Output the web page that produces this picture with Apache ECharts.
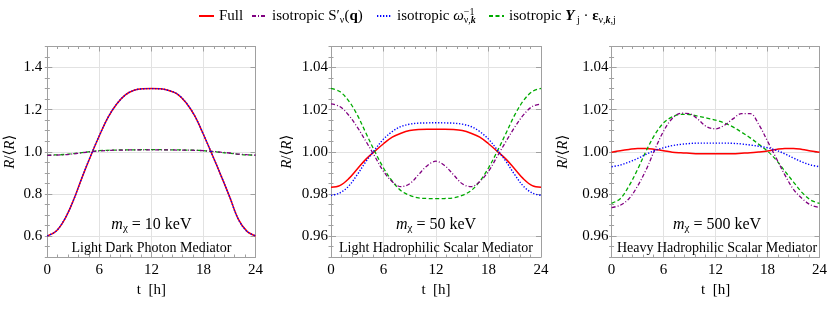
<!DOCTYPE html>
<html><head><meta charset="utf-8">
<script src="https://cdn.jsdelivr.net/npm/echarts@6/dist/echarts.min.js"></script>
<style>html,body{margin:0;padding:0;background:#fff}#c{width:830px;height:317px}</style>
</head><body><div id="c"></div>
<script>
// ---------- data ----------
const hours = [0,1,2,3,4,5,6,7,8,9,10,11,12,13,14,15,16,17,18,19,20,21,22,23,24];
const xTicks = [0, 6, 12, 18, 24];
const seriesNames = ['Full', 'isotropic S′ν(q)', 'isotropic ω⁻¹ν,k', 'isotropic Yj·εν,k,j'];

// Panel 1: m_chi = 10 keV, Light Dark Photon Mediator
const full1 = [0.600,0.622,0.679,0.768,0.877,0.980,1.076,1.163,1.227,1.270,1.292,1.299,1.300,1.299,1.291,1.274,1.233,1.170,1.082,0.987,0.889,0.788,0.681,0.623,0.600];
const isoS1 = [0.983,0.984,0.986,0.990,0.995,1.000,1.004,1.006,1.008,1.008,1.009,1.009,1.009,1.009,1.009,1.008,1.008,1.007,1.005,1.002,0.998,0.994,0.989,0.986,0.984];
const isoW1 = [0.601,0.622,0.680,0.768,0.878,0.981,1.077,1.163,1.227,1.270,1.292,1.299,1.300,1.299,1.291,1.274,1.233,1.170,1.082,0.987,0.889,0.788,0.681,0.622,0.601];
const isoY1 = [0.984,0.985,0.987,0.991,0.996,1.001,1.005,1.007,1.008,1.009,1.009,1.010,1.010,1.010,1.009,1.009,1.008,1.007,1.005,1.001,0.997,0.993,0.988,0.985,0.984];

// Panel 2: m_chi = 50 keV, Light Hadrophilic Scalar Mediator
const full2 = [0.9831,0.9839,0.9871,0.9918,0.9965,1.0002,1.0038,1.0069,1.0088,1.0101,1.0106,1.0107,1.0107,1.0107,1.0106,1.0101,1.0088,1.0069,1.0038,1.0002,0.9965,0.9918,0.9871,0.9839,0.9831];
const isoS2 = [1.0227,1.0215,1.0175,1.0117,1.0049,0.9978,0.9907,0.9858,0.9834,0.9848,0.9891,0.9934,0.9955,0.9934,0.9891,0.9848,0.9834,0.9858,0.9907,0.9978,1.0049,1.0117,1.0175,1.0215,1.0227];
const isoW2 = [0.9793,0.9804,0.9836,0.9891,0.9954,1.0009,1.0060,1.0096,1.0120,1.0131,1.0136,1.0137,1.0138,1.0137,1.0136,1.0131,1.0120,1.0096,1.0060,1.0009,0.9954,0.9891,0.9836,0.9804,0.9793];
const isoY2 = [1.0301,1.0286,1.0243,1.0175,1.0088,1.0002,0.9923,0.9860,0.9815,0.9793,0.9781,0.9778,0.9777,0.9778,0.9781,0.9793,0.9815,0.9860,0.9923,1.0002,1.0088,1.0175,1.0243,1.0286,1.0301];

// Panel 3: m_chi = 500 keV, Heavy Hadrophilic Scalar Mediator
const full3 = [0.9998,1.0005,1.0011,1.0016,1.0016,1.0011,1.0005,0.9998,0.9995,0.9993,0.9991,0.9991,0.9991,0.9991,0.9991,0.9993,0.9995,0.9999,1.0004,1.0011,1.0016,1.0016,1.0011,1.0004,0.9998];
const isoS3 = [0.9735,0.9746,0.9777,0.9837,0.9916,1.0011,1.0098,1.0158,1.0183,1.0181,1.0153,1.0118,1.0109,1.0125,1.0156,1.0181,1.0181,1.0129,1.0050,0.9970,0.9890,0.9821,0.9777,0.9747,0.9735];
const isoW3 = [0.9929,0.9937,0.9951,0.9968,0.9988,1.0006,1.0019,1.0029,1.0035,1.0039,1.0041,1.0041,1.0041,1.0041,1.0040,1.0037,1.0032,1.0026,1.0019,1.0007,0.9990,0.9970,0.9951,0.9937,0.9929];
const isoY3 = [0.9755,0.9777,0.9837,0.9916,1.0005,1.0082,1.0137,1.0166,1.0178,1.0177,1.0169,1.0160,1.0150,1.0137,1.0118,1.0093,1.0066,1.0035,1.0003,0.9961,0.9908,0.9856,0.9806,0.9770,0.9755];

const massLabels = ['10 keV', '50 keV', '500 keV'];
const mediatorLabels = ['Light Dark Photon Mediator', 'Light Hadrophilic Scalar Mediator', 'Heavy Hadrophilic Scalar Mediator'];
const yMin = [0.5, 0.95, 0.95];
const yMax = [1.5, 1.05, 1.05];
const yMinorStep = [0.05, 0.005, 0.005];
const yDecimals = [1, 2, 2];

// ---------- layout / style ----------
const FONT = "'Liberation Serif','DejaVu Serif',serif";
const FRAME = '#a0a0a0';
const GRIDC = '#e2e2e2';
const grids = [
  {left: 47.3, top: 46.5, width: 208.2, height: 210.5},
  {left: 331,  top: 46.5, width: 210,   height: 210.5},
  {left: 611.6,top: 46.5, width: 210.8, height: 210.5}
];
const labelMargin = [5, 3, 3];
const nameGaps = [30, 36, 41];
const legendLefts = [193, 246, 371, 483];
const styles = [
  {color: '#ff0000', width: 1.5, type: 'solid', z: 2},
  {color: '#800080', width: 1.3, type: [4, 2, 1, 2], z: 4},
  {color: '#0000ff', width: 1.4, type: [1.3, 1.7], z: 5},
  {color: '#00aa00', width: 1.3, type: [4, 2.5], z: 3}
];
const panelData = [[full1, isoS1, isoW1, isoY1],[full2, isoS2, isoW2, isoY2],[full3, isoS3, isoW3, isoY3]];

const subStyle = {fontFamily: FONT, fontSize: 10, lineHeight: 10, verticalAlign: 'bottom', color: '#000'};
const supStyle = {fontFamily: FONT, fontSize: 10, lineHeight: 10, verticalAlign: 'top', color: '#000'};
const legendRich = {
  sub: subStyle,
  sup: supStyle,
  sup0: Object.assign({}, supStyle, {width: 0.01}),
  subb: Object.assign({}, subStyle, {fontWeight: 'bold', fontStyle: 'italic'}),
  b: {fontFamily: FONT, fontSize: 15, fontWeight: 'bold', color: '#000'},
  bi: {fontFamily: FONT, fontSize: 15, fontWeight: 'bold', fontStyle: 'italic', color: '#000'},
  it: {fontFamily: FONT, fontSize: 15, fontStyle: 'italic', color: '#000'}
};
const legendText = {};
legendText[seriesNames[0]] = 'Full';
legendText[seriesNames[1]] = 'isotropic S′{sub|ν}({b|q})';
legendText[seriesNames[2]] = 'isotropic {it|ω}{sup0|−1}{sub|ν,}{subb|k}';
legendText[seriesNames[3]] = 'isotropic {bi|Y}{sub| j} · {b|ε}{sub|ν,}{subb|k}{sub|,j}';

const xAxes = [], yAxes = [], series = [], graphics = [];
for (let i = 0; i < 3; i++) {
  const tickStyle = {color: FRAME, width: 1};
  xAxes.push({
    gridIndex: i, type: 'value', min: xTicks[0], max: xTicks[xTicks.length-1], interval: 6, position: 'bottom',
    axisLine: {show: true, onZero: false, lineStyle: {color: FRAME, width: 1}},
    axisTick: {show: true, inside: true, length: 5, lineStyle: tickStyle},
    minorTick: {show: true, splitNumber: 5, length: 2.5, lineStyle: tickStyle},
    splitLine: {show: true, lineStyle: {color: GRIDC, width: 1}},
    axisLabel: {color: '#000', fontFamily: FONT, fontSize: 15, margin: 6},
    name: 't  [h]', nameLocation: 'middle', nameGap: 24,
    nameTextStyle: {color: '#000', fontFamily: FONT, fontSize: 15}
  });
  xAxes.push({
    gridIndex: i, type: 'value', min: xTicks[0], max: xTicks[xTicks.length-1], interval: 6, position: 'top',
    axisLine: {show: true, onZero: false, lineStyle: {color: FRAME, width: 1}},
    axisTick: {show: true, inside: true, length: 5, lineStyle: tickStyle},
    minorTick: {show: true, splitNumber: 5, length: 2.5, lineStyle: tickStyle},
    splitLine: {show: false}, axisLabel: {show: false}
  });
  const base = {gridIndex: i, type: 'value', min: yMin[i], max: yMax[i]};
  yAxes.push(Object.assign({}, base, {
    position: 'left', splitNumber: 5,
    axisLine: {show: true, onZero: false, lineStyle: {color: FRAME, width: 1}},
    axisTick: {show: true, inside: true, length: 5, lineStyle: tickStyle},
    splitLine: {show: true, lineStyle: {color: GRIDC, width: 1}},
    axisLabel: {color: '#000', fontFamily: FONT, fontSize: 15, margin: labelMargin[i],
      showMinLabel: false, showMaxLabel: false, formatter: v => v.toFixed(yDecimals[i])},
    name: '{i|R}/⟨{i|R}⟩', nameLocation: 'middle', nameGap: nameGaps[i],
    nameTextStyle: {color: '#000', fontFamily: FONT, fontSize: 15,
      rich: {i: {fontFamily: FONT, fontSize: 15, fontStyle: 'italic', color: '#000'}}}
  }));
  yAxes.push(Object.assign({}, base, {
    position: 'left', interval: yMinorStep[i],
    axisLine: {show: false}, axisTick: {show: true, inside: true, length: 2.5, lineStyle: tickStyle},
    splitLine: {show: false}, axisLabel: {show: false}
  }));
  yAxes.push(Object.assign({}, base, {
    position: 'right', splitNumber: 5,
    axisLine: {show: true, onZero: false, lineStyle: {color: FRAME, width: 1}},
    axisTick: {show: true, inside: true, length: 5, lineStyle: tickStyle},
    splitLine: {show: false}, axisLabel: {show: false}
  }));
  yAxes.push(Object.assign({}, base, {
    position: 'right', interval: yMinorStep[i],
    axisLine: {show: false}, axisTick: {show: true, inside: true, length: 2.5, lineStyle: tickStyle},
    splitLine: {show: false}, axisLabel: {show: false}
  }));
  // series order for z: Full, Y, S, W
  [0, 3, 1, 2].forEach(k => {
    const st = styles[k];
    series.push({
      type: 'line', name: seriesNames[k], xAxisIndex: 2*i, yAxisIndex: 4*i,
      data: hours.map((h, j) => [h, panelData[i][k][j]]),
      symbol: 'none', smooth: 0.35, z: st.z, color: st.color,
      lineStyle: {color: st.color, width: st.width, type: st.type},
      silent: true
    });
  });
  const g = grids[i];
  const cx = g.left + g.width / 2;
  graphics.push({
    type: 'text', x: cx, y: 225, z: 100,
    style: {text: '{it|m}{sub|χ} = ' + massLabels[i], align: 'center', verticalAlign: 'middle',
      fontFamily: FONT, fontSize: 16, fill: '#000', lineHeight: 18,
      rich: {it: {fontFamily: FONT, fontSize: 16, fontStyle: 'italic', color: '#000'},
             sub: {fontFamily: FONT, fontSize: 11, lineHeight: 10, verticalAlign: 'bottom', color: '#000'}}}
  });
  graphics.push({
    type: 'text', x: cx, y: 248, z: 100,
    style: {text: mediatorLabels[i], align: 'center', verticalAlign: 'middle',
      fontFamily: FONT, fontSize: 14, fill: '#000'}
  });
}

const legends = seriesNames.map((n, k) => ({
  left: legendLefts[k], top: 2, itemWidth: 15, itemHeight: 10,
  data: [n], selectedMode: false,
  itemStyle: {opacity: 0},
  formatter: nm => legendText[nm],
  textStyle: {fontFamily: FONT, fontSize: 15, color: '#000', lineHeight: 18, rich: legendRich}
}));

const chart = echarts.init(document.getElementById('c'), null, {renderer: 'canvas'});
chart.setOption({
  animation: false,
  backgroundColor: '#fff',
  grid: grids.map(g => Object.assign({containLabel: false}, g)),
  xAxis: xAxes,
  yAxis: yAxes,
  legend: legends,
  series: series,
  graphic: graphics
});
</script></body></html>
